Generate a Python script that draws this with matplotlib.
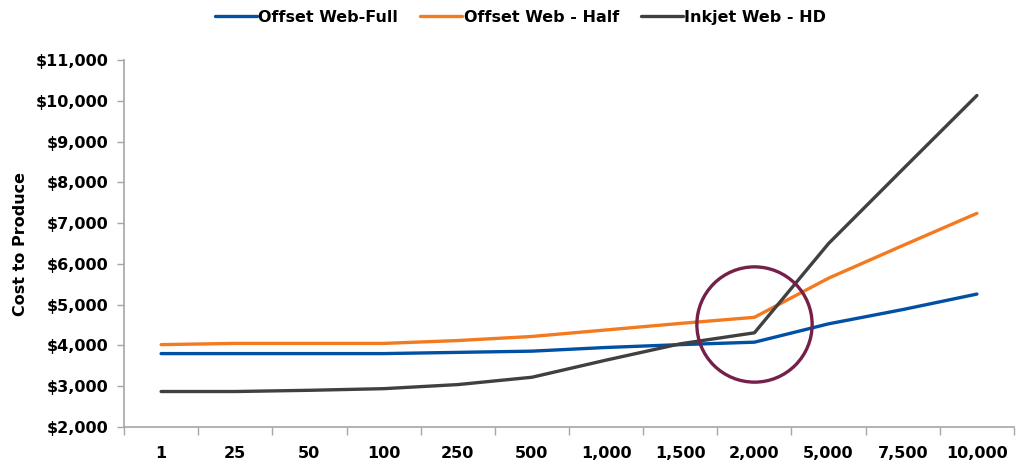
import matplotlib
matplotlib.use("Agg")
import matplotlib.pyplot as plt
from matplotlib.ticker import FuncFormatter, FixedLocator

plt.rcParams['font.family'] = ['DejaVu Sans']

quantities = ["1", "25", "50", "100", "250", "500", "1,000", "1,500", "2,000", "5,000", "7,500", "10,000"]
offset_full = [3800, 3800, 3800, 3800, 3830, 3860, 3950, 4020, 4080, 4530, 4880, 5260]
offset_half = [4020, 4050, 4050, 4050, 4120, 4220, 4380, 4540, 4690, 5650, 6450, 7240]
inkjet_hd = [2870, 2870, 2900, 2940, 3040, 3220, 3640, 4040, 4310, 6500, 8320, 10130]
series_names = ["Offset Web-Full", "Offset Web - Half", "Inkjet Web - HD"]
highlight_value = 4525

colors = ["#0050A4", "#F47A20", "#404040"]
axis_gray = "#A6A6A6"

fig = plt.figure(figsize=(10.31, 4.66), dpi=100)
ax = fig.add_axes([0.1203, 0.0837, 0.8632, 0.7875])

x = list(range(len(quantities)))
for vals, name, c in zip([offset_full, offset_half, inkjet_hd], series_names, colors):
    ax.plot(x, vals, color=c, lw=2.4, label=name, solid_capstyle='round', solid_joinstyle='round')

# highlight ring around the crossover point
ax.plot([8], [highlight_value], marker='o', markersize=83, markerfacecolor='none',
        markeredgecolor='#74204A', markeredgewidth=2.4, zorder=5)

ax.set_xlim(-0.5, len(quantities) - 0.5)
ax.set_ylim(2000, 11000)
ax.set_yticks(range(2000, 11001, 1000))
ax.yaxis.set_major_formatter(FuncFormatter(lambda v, p: f"${int(v):,}"))

ax.set_xticks(x)
ax.set_xticklabels(quantities)
ax.xaxis.set_minor_locator(FixedLocator([i - 0.5 for i in range(len(quantities) + 1)]))
ax.tick_params(axis='x', which='major', length=0, pad=14)
ax.tick_params(axis='x', which='minor', length=6, color=axis_gray, width=1)
ax.tick_params(axis='y', which='major', length=5, color=axis_gray, width=1, pad=6)

for lab in ax.get_xticklabels() + ax.get_yticklabels():
    lab.set_fontweight('bold')
    lab.set_fontsize(11.5)

for s in ['top', 'right']:
    ax.spines[s].set_visible(False)
for s in ['left', 'bottom']:
    ax.spines[s].set_color(axis_gray)
    ax.spines[s].set_linewidth(1.2)

ax.set_ylabel("Cost to Produce", fontsize=11.5, fontweight='bold', labelpad=6)

leg = fig.legend(loc='upper center', bbox_to_anchor=(0.505, 1.01), ncol=3, frameon=False,
                 handlelength=2.6, handletextpad=0.1, columnspacing=1.4,
                 prop={'weight': 'bold', 'size': 11.5})

fig.savefig("out.png", dpi=100)
